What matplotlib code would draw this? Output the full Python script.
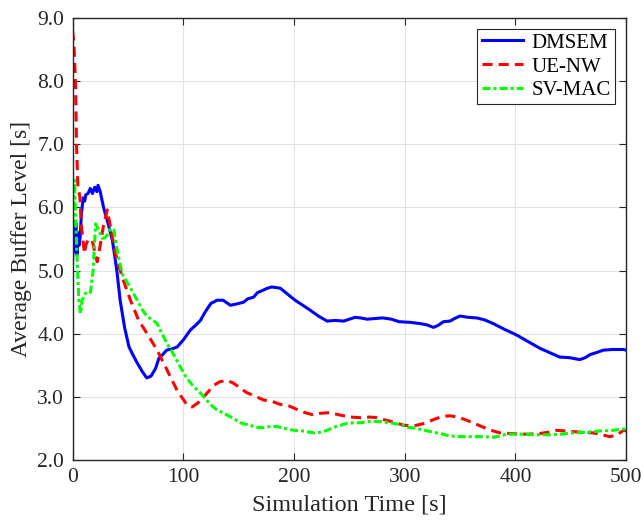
import matplotlib
matplotlib.use("Agg")
import matplotlib.pyplot as plt

plt.rcParams["font.family"] = ["Liberation Serif", "DejaVu Serif"]

dmsem_t = [0, 1, 2, 3, 4, 5, 6, 7, 8, 9.6, 11, 12, 14, 16, 18, 20, 22, 23, 25, 28,
           32, 36, 40, 43, 47, 51, 55, 58, 63, 67, 71, 75, 78, 82, 85, 90, 94.5, 100,
           106.5, 111, 115.5, 120, 125, 130.6, 136, 142.6, 148, 154.6, 158, 163.6, 167,
           171, 176, 180, 187.7, 194, 201, 208, 214.8, 222, 229.9, 237, 244.9, 250,
           255.4, 260, 266, 273, 280, 288, 295, 305, 314, 320, 326, 330, 335, 341, 345,
           350, 357, 365, 372, 380, 390, 401, 411, 422, 431, 440, 449, 455, 458, 463,
           467.5, 473, 479.5, 488, 497.5, 500]
dmsem_v = [5.13, 5.7, 5.3, 5.75, 5.25, 5.6, 5.4, 5.55, 5.9, 6.15, 6.1, 6.2, 6.22, 6.3,
           6.22, 6.32, 6.25, 6.35, 6.25, 6.0, 5.75, 5.48, 5.0, 4.53, 4.1, 3.79, 3.65,
           3.55, 3.4, 3.3, 3.33, 3.45, 3.61, 3.68, 3.74, 3.76, 3.79, 3.9, 4.06, 4.13,
           4.21, 4.35, 4.48, 4.53, 4.53, 4.45, 4.47, 4.5, 4.55, 4.58, 4.65, 4.68, 4.72,
           4.74, 4.72, 4.63, 4.53, 4.45, 4.37, 4.28, 4.2, 4.21, 4.2, 4.23, 4.26, 4.25,
           4.23, 4.24, 4.25, 4.23, 4.19, 4.18, 4.16, 4.14, 4.1, 4.13, 4.19, 4.2, 4.24,
           4.28, 4.26, 4.25, 4.22, 4.16, 4.07, 3.98, 3.88, 3.77, 3.7, 3.63, 3.62, 3.6,
           3.59, 3.62, 3.67, 3.7, 3.74, 3.75, 3.75, 3.74]

uenw_t = [0, 1.2, 2.7, 3.6, 4.8, 6.6, 8, 10.8, 12, 13.8, 16, 17.8, 20, 22.3, 25, 27.7,
          31.3, 34.3, 38.8, 44.8, 52.3, 59.8, 67.4, 76.4, 85.5, 94.5, 103.5, 108, 113,
          118.5, 127.5, 133, 139.6, 145, 151.6, 157, 163.6, 172.6, 180, 187.7, 195,
          202.8, 210, 216.3, 224, 232.8, 242, 250.9, 260, 268.9, 275, 281, 290, 299,
          308, 318, 326, 334, 341, 348, 356, 364, 371, 378, 386, 395, 404, 413, 422,
          430, 437, 445, 452, 460, 470, 478, 485.5, 492, 497.5, 500]
uenw_v = [8.8, 8.6, 7.96, 7.0, 6.33, 6.17, 5.7, 5.27, 5.4, 5.48, 5.5, 5.48, 5.3, 5.14,
          5.4, 5.69, 5.96, 5.69, 5.27, 4.9, 4.53, 4.21, 4.0, 3.74, 3.42, 3.1, 2.87,
          2.84, 2.9, 3.0, 3.18, 3.24, 3.26, 3.22, 3.14, 3.07, 3.02, 2.95, 2.93, 2.88,
          2.86, 2.8, 2.75, 2.72, 2.74, 2.75, 2.71, 2.68, 2.67, 2.68, 2.67, 2.64, 2.6,
          2.55, 2.54, 2.58, 2.64, 2.69, 2.7, 2.68, 2.63, 2.57, 2.52, 2.47, 2.43, 2.42,
          2.41, 2.41, 2.42, 2.44, 2.47, 2.46, 2.45, 2.44, 2.43, 2.4, 2.37, 2.4, 2.47,
          2.46]

svmac_t = [0, 1.8, 2.7, 4.2, 5.7, 7.2, 8.7, 11.7, 14, 16.2, 18.6, 20.8, 23.7, 26.8, 29,
           31.3, 34.3, 37.3, 40.3, 44.8, 50.8, 58.4, 63, 67.4, 72, 76.4, 80, 85.5, 91,
           97.5, 103, 109.5, 115.5, 124.5, 130, 136.6, 144, 151.6, 160, 166, 172.6, 178,
           184.7, 192, 199.7, 208, 217.8, 224, 229.9, 238, 247.9, 255, 260, 268, 275,
           282, 290, 296, 303, 311, 318, 326, 334, 341, 350, 360, 370, 380, 386, 392,
           404, 416, 431, 442, 452, 464, 476, 488, 497.5, 500]
svmac_v = [5.7, 6.43, 5.85, 5.16, 4.53, 4.32, 4.53, 4.64, 4.62, 4.66, 5.0, 5.74, 5.64,
           5.51, 5.52, 5.56, 5.67, 5.64, 5.32, 4.95, 4.77, 4.53, 4.38, 4.27, 4.22, 4.16,
           4.03, 3.84, 3.68, 3.47, 3.3, 3.16, 3.06, 2.88, 2.8, 2.74, 2.67, 2.59, 2.55,
           2.52, 2.51, 2.53, 2.53, 2.5, 2.47, 2.46, 2.43, 2.44, 2.47, 2.53, 2.58, 2.59,
           2.59, 2.61, 2.61, 2.6, 2.58, 2.56, 2.52, 2.5, 2.47, 2.44, 2.41, 2.38, 2.37,
           2.37, 2.37, 2.36, 2.38, 2.41, 2.41, 2.4, 2.4, 2.41, 2.43, 2.44, 2.46, 2.47,
           2.49, 2.49]

x_ticks = [0, 100, 200, 300, 400, 500]
y_ticks = [2.0, 3.0, 4.0, 5.0, 6.0, 7.0, 8.0, 9.0]

fig = plt.figure(figsize=(6.43, 5.25), dpi=100)
ax = fig.add_axes([0.1128, 0.1238, 0.861, 0.842])

ax.plot(dmsem_t, dmsem_v, color="#0000ff", lw=2.2, label="DMSEM")
ax.plot(uenw_t, uenw_v, color="#ff0000", lw=2.2, dashes=(3.3, 2.0), label="UE-NW")
ax.plot(svmac_t, svmac_v, color="#00ff00", lw=2.2, dashes=(2.6, 1.0, 1.0, 1.0),
        label="SV-MAC")

ax.set_xlim(0, 500)
ax.set_ylim(2.0, 9.0)
ax.set_xticks(x_ticks)
ax.set_yticks(y_ticks)
ax.set_yticklabels([f"{v:.1f}" for v in y_ticks])
ax.tick_params(direction="in", top=True, right=True, labelsize=15.5, length=5,
               width=0.8, colors="#262626", pad=6)
for side in ax.spines.values():
    side.set_color("#262626")
    side.set_linewidth(1.0)
ax.grid(True, color="#e3e3e3", lw=0.8)
ax.set_axisbelow(True)

ax.set_xlabel("Simulation Time [s]", fontsize=17.5, color="#262626", labelpad=5)
ax.set_ylabel("Average Buffer Level [s]", fontsize=17, color="#262626", labelpad=4)

leg = ax.legend(loc="upper right", bbox_to_anchor=(0.98, 0.975), borderaxespad=0,
                fontsize=15, fancybox=False, framealpha=1, edgecolor="#262626",
                handlelength=2.0, handletextpad=0.4, labelspacing=0.2,
                borderpad=0.2)
leg.get_frame().set_linewidth(0.8)

fig.savefig("out.png", dpi=100)
